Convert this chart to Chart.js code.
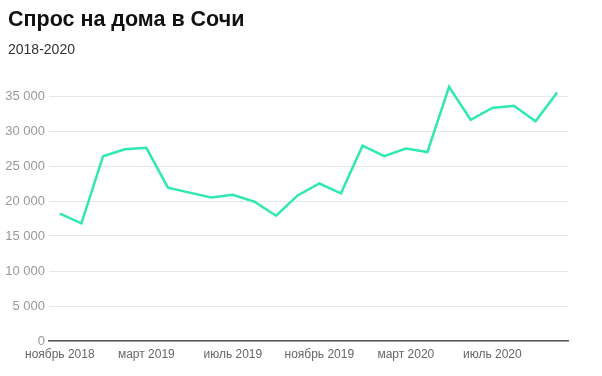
<!DOCTYPE html>
<html>
<head>
<meta charset="utf-8">
<script src="https://cdn.jsdelivr.net/npm/chart.js@4"></script>
<style>
  body { margin: 0; background: #fff; font-family: "Liberation Sans", Arial, sans-serif; }
  #wrap { position: relative; width: 602px; height: 376px; }
  #title { position: absolute; left: 8px; top: 7px; font-size: 21.5px; font-weight: bold; color: #111; }
  #sub { position: absolute; left: 8px; top: 41px; font-size: 14px; color: #333; }
  canvas { position: absolute; left: 0; top: 0; }
</style>
</head>
<body>
<div id="wrap">
  <canvas id="grafica" width="602" height="376"></canvas>
  <div id="title">Спрос на дома в Сочи</div>
  <div id="sub">2018-2020</div>
</div>
<script>
// месяцы: ноябрь 2018 - октябрь 2020
let meses = [
    'ноябрь 2018', 'декабрь 2018', 'январь 2019', 'февраль 2019', 'март 2019', 'апрель 2019',
    'май 2019', 'июнь 2019', 'июль 2019', 'август 2019', 'сентябрь 2019', 'октябрь 2019',
    'ноябрь 2019', 'декабрь 2019', 'январь 2020', 'февраль 2020', 'март 2020', 'апрель 2020',
    'май 2020', 'июнь 2020', 'июль 2020', 'август 2020', 'сентябрь 2020', 'октябрь 2020'
];
let spros = [
    18200, 16800, 26400, 27400, 27600, 21900, 21200, 20500, 20900, 19900, 17900, 20800,
    22500, 21100, 27900, 26400, 27500, 27000, 36300, 31600, 33300, 33600, 31400, 35500
];
let yTicks = [0, 5000, 10000, 15000, 20000, 25000, 30000, 35000];

let ctx = document.getElementById('grafica').getContext('2d');
new Chart(ctx, {
    type: 'line',
    data: {
        labels: meses,
        datasets: [{
            label: 'Спрос',
            data: spros,
            borderColor: '#30e8b2',
            borderWidth: 2.5,
            pointRadius: 0,
            tension: 0,
            fill: false
        }]
    },
    options: {
        responsive: false,
        animation: false,
        layout: { padding: { top: 82, right: 34, left: 0, bottom: 0 } },
        plugins: { legend: { display: false }, tooltip: { enabled: false } },
        scales: {
            x: {
                offset: true,
                grid: { display: false },
                border: { display: true, color: '#555', width: 1.5 },
                ticks: {
                    autoSkip: false,
                    maxRotation: 0,
                    padding: -2,
                    color: '#666',
                    font: { family: '"Liberation Sans", Arial, sans-serif', size: 12 },
                    callback: function (v, i) { return i % 4 === 0 ? meses[i] : ''; }
                },
                afterFit: function (s) { s.height = 35; }
            },
            y: {
                min: 0,
                max: 37000,
                border: { display: false },
                grid: { color: '#e6e6e6', drawTicks: false },
                afterBuildTicks: function (s) { s.ticks = yTicks.map(v => ({ value: v })); },
                ticks: {
                    padding: 4,
                    color: '#999',
                    font: { family: '"Liberation Sans", Arial, sans-serif', size: 13 },
                    callback: function (v) { return String(v).replace(/\B(?=(\d{3})+(?!\d))/g, ' '); }
                },
                afterFit: function (s) { s.width = 49; }
            }
        }
    }
});
</script>
</body>
</html>
